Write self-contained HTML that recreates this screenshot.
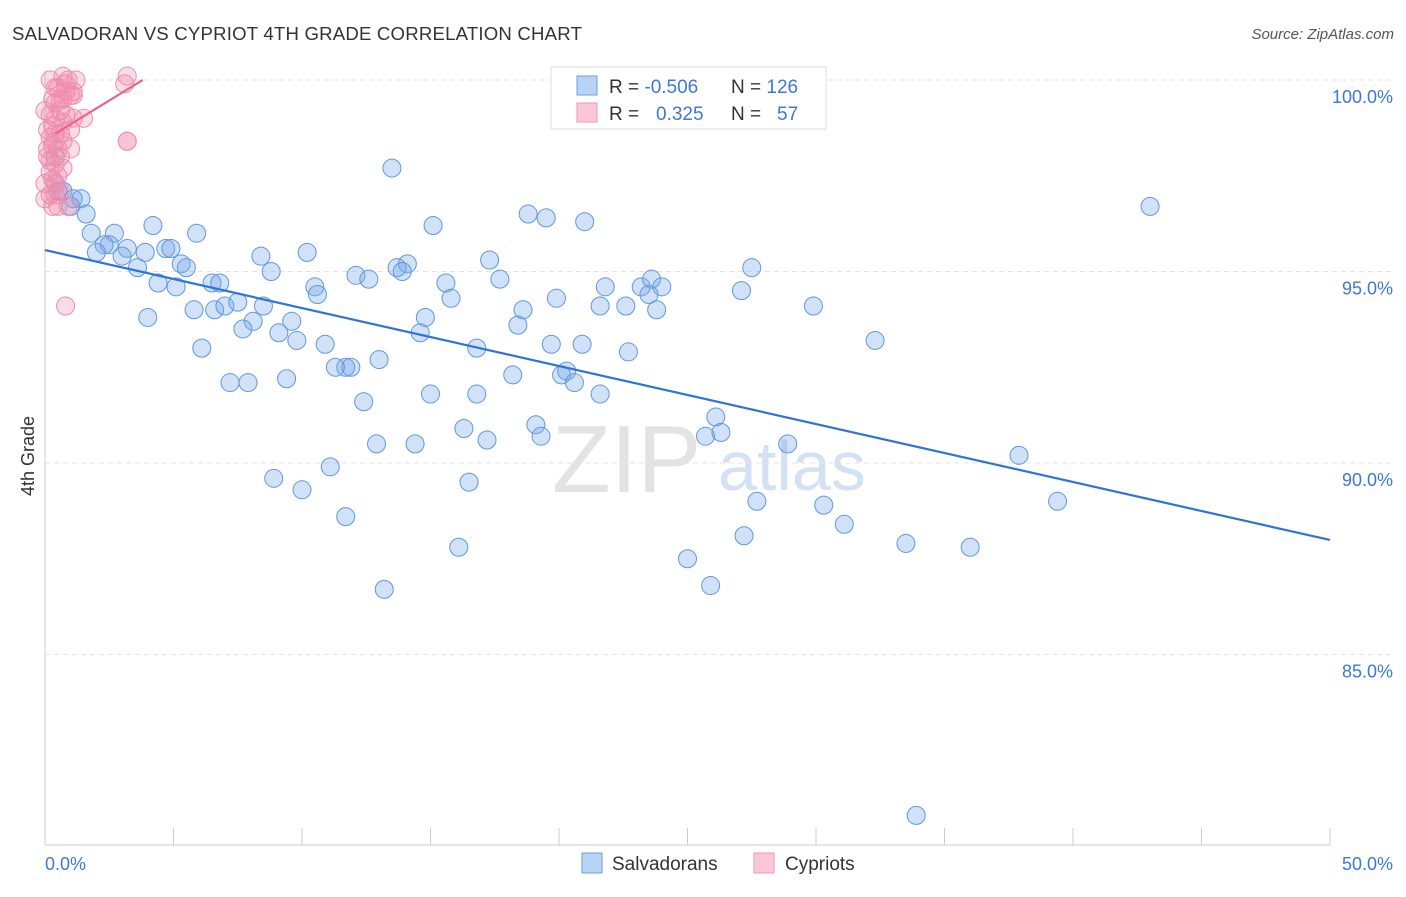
<!DOCTYPE html>
<html><head><meta charset="utf-8"><style>
body{margin:0;background:#fff;font-family:"Liberation Sans",sans-serif}
svg text{font-family:"Liberation Sans",sans-serif}
</style></head><body>
<svg id="chart" width="1406" height="892" xmlns="http://www.w3.org/2000/svg">
<text x="12" y="40" font-size="18.6" letter-spacing="0.2" fill="#333">SALVADORAN VS CYPRIOT 4TH GRADE CORRELATION CHART</text>
<text x="1394" y="39" font-size="15" fill="#555" text-anchor="end" font-style="italic">Source: ZipAtlas.com</text>
<g>
<text x="552" y="492" font-size="96" fill="#ddd" font-family="Liberation Serif" opacity="0.8">ZIP</text>
<text x="718" y="490" font-size="70" fill="#c9daf3" opacity="0.8">atlas</text>
</g>
<g id="grid"></g>
<g id="axes"></g>
<g id="marks"></g>
<text x="34" y="456" font-size="18" fill="#333" text-anchor="middle" transform="rotate(-90 34 456)">4th Grade</text>
<g>
<rect x="551" y="67" width="275" height="62" fill="#fff" stroke="#ddd"/>
<rect x="577" y="76" width="20" height="19" fill="#b8d3f5" stroke="#6a9fe0"/>
<rect x="577" y="103" width="20" height="19" fill="#fbc7d6" stroke="#ec9ab4"/>
<text x="609" y="93" font-size="19" fill="#333">R = <tspan fill="#3d78d8">-0.506</tspan></text>
<text x="731" y="93" font-size="19" fill="#333">N = <tspan fill="#3d78d8">126</tspan></text>
<text x="609" y="120" font-size="19" fill="#333">R = <tspan fill="#3d78d8" x="656">0.325</tspan></text>
<text x="731" y="120" font-size="19" fill="#333">N = <tspan fill="#3d78d8" x="777">57</tspan></text>
</g>
<g>
<rect x="582" y="853" width="20" height="20" fill="#b8d3f5" stroke="#6a9fe0"/>
<text x="612" y="870" font-size="19" fill="#333">Salvadorans</text>
<rect x="754" y="853" width="20" height="20" fill="#fbc7d6" stroke="#ec9ab4"/>
<text x="785" y="870" font-size="19" fill="#333">Cypriots</text>
</g>
</svg>
<script>
const blueX=[13.5,43.0,18.8,19.5,21.0,15.1,4.2,5.9,1.8,2.7,2.5,3.2,2.3,4.7,4.9,3.9,2.0,3.0,8.4,10.2,17.3,5.3,5.5,3.6,8.8,14.1,13.7,13.9,12.1,12.6,27.5,17.7,15.6,10.5,10.6,4.4,5.1,6.5,6.8,21.8,23.2,23.6,24.0,23.5,27.1,15.8,19.9,21.6,22.6,23.8,29.9,18.6,5.8,6.6,7.0,7.5,8.5,4.0,8.1,9.6,14.8,18.4,7.7,9.1,9.8,14.6,32.3,10.9,16.8,19.7,20.9,6.1,22.7,13.0,11.7,11.9,11.3,18.2,20.1,20.3,20.6,9.4,7.2,7.9,12.4,15.0,16.8,21.6,26.1,19.1,19.3,16.3,17.2,12.9,14.4,25.7,26.3,28.9,37.9,11.1,8.9,10.0,16.5,27.7,39.4,30.3,11.7,31.1,27.2,16.1,33.5,36.0,25.0,25.9,13.2,33.9,0.7,1.1,1.4,0.5,0.4,1.0,1.6,0.4];
const blueY=[97.7,96.7,96.5,96.4,96.3,96.2,96.2,96.0,96.0,96.0,95.7,95.6,95.7,95.6,95.6,95.5,95.5,95.4,95.4,95.5,95.3,95.2,95.1,95.1,95.0,95.2,95.1,95.0,94.9,94.8,95.1,94.8,94.7,94.6,94.4,94.7,94.6,94.7,94.7,94.6,94.6,94.8,94.6,94.4,94.5,94.3,94.3,94.1,94.1,94.0,94.1,94.0,94.0,94.0,94.1,94.2,94.1,93.8,93.7,93.7,93.8,93.6,93.5,93.4,93.2,93.4,93.2,93.1,93.0,93.1,93.1,93.0,92.9,92.7,92.5,92.5,92.5,92.3,92.3,92.4,92.1,92.2,92.1,92.1,91.6,91.8,91.8,91.8,91.2,91.0,90.7,90.9,90.6,90.5,90.5,90.7,90.8,90.5,90.2,89.9,89.6,89.3,89.5,89.0,89.0,88.9,88.6,88.4,88.1,87.8,87.9,87.8,87.5,86.8,86.7,80.8,97.1,96.9,96.9,97.1,97.3,96.7,96.5,98.0];
const pinkX=[0.2,0.7,0.9,1.2,0.5,0.8,1.0,1.1,0.4,0.6,0.8,1.5,0.3,0.4,0.6,0.2,1.0,0.3,0.5,0.1,0.4,0.7,0.2,0.4,0.6,0.2,0.3,0.5,0.9,3.2,0.8,3.1,3.2,0.0,0.1,0.4,0.7,1.1,0.2,0.0,0.4,0.7,0.3,1.0,0.5,0.0,0.4,0.8,1.1,0.1,0.6,0.7,0.2,0.4,0.3,3.2,0.6];
const pinkY=[100.0,100.1,100.0,100.0,99.8,99.7,99.6,99.7,99.4,99.2,99.1,99.0,98.8,98.6,98.6,98.5,98.2,98.3,98.2,98.0,97.8,97.7,97.6,97.3,97.1,97.0,96.7,96.7,96.7,98.4,94.1,99.9,100.1,99.2,98.7,99.0,99.5,99.6,97.9,97.3,98.4,98.9,99.5,98.7,97.5,96.9,99.8,99.9,99.0,98.2,98.0,98.4,99.1,97.0,97.4,98.4,99.5];
const blueTrend=[[0,95.56],[50,87.99]];
const pinkTrend=[[0.4,98.6],[3.8,100.0]];
const yTicks=[100,95,90,85];
const yTickLabels=["100.0%","95.0%","90.0%","85.0%"];
const xTicks=[0,5,10,15,20,25,30,35,40,45,50];

const NS="http://www.w3.org/2000/svg";
const sx=v=>45+v*25.7;
const sy=v=>80+(100-v)*38.3;
function mk(tag,attrs,parent){const e=document.createElementNS(NS,tag);for(const k in attrs)e.setAttribute(k,attrs[k]);parent.appendChild(e);return e;}
const grid=document.getElementById('grid'),axes=document.getElementById('axes'),marks=document.getElementById('marks');
yTicks.forEach((t,i)=>{
  const l=mk('line',{x1:45,x2:1395,y1:sy(t),y2:sy(t),stroke:'#e3e3e3','stroke-dasharray':'5,4'},grid);
  
  
  const tx=mk('text',{x:1393,y:sy(t)+23,'font-size':18,fill:'#3d78d8','text-anchor':'end'},axes);
  tx.textContent=yTickLabels[i];
  
  
});
const ax=mk('line',{x1:45,x2:1330,y1:845,y2:845,stroke:'#ccc'},axes);


const ay=mk('line',{x1:45,x2:45,y1:70,y2:845,stroke:'#ccc'},axes);


xTicks.forEach(t=>{
  const l=mk('line',{x1:sx(t),x2:sx(t),y1:828,y2:845,stroke:'#ccc'},axes);
  
  
});
const xl0=mk('text',{x:45,y:870,'font-size':18,fill:'#3d78d8'},axes);xl0.textContent=xTicks[0].toFixed(1)+'%';


const xl1=mk('text',{x:1393,y:870,'font-size':18,fill:'#3d78d8','text-anchor':'end'},axes);xl1.textContent=xTicks[xTicks.length-1].toFixed(1)+'%';


blueX.forEach((x,i)=>{
  const c=mk('circle',{cx:sx(x),cy:sy(blueY[i]),r:9,fill:'rgba(120,170,235,0.35)',stroke:'#5f98de','stroke-width':1},marks);
  
  
});
pinkX.forEach((x,i)=>{
  const c=mk('circle',{cx:sx(x),cy:sy(pinkY[i]),r:9,fill:'rgba(242,140,170,0.3)',stroke:'#ec8fae','stroke-width':1},marks);
  
  
});
const bl=mk('line',{x1:sx(blueTrend[0][0]),y1:sy(blueTrend[0][1]),x2:sx(blueTrend[1][0]),y2:sy(blueTrend[1][1]),stroke:'#2f73d6','stroke-width':2.2},marks);


const pl=mk('line',{x1:sx(pinkTrend[0][0]),y1:sy(pinkTrend[0][1]),x2:sx(pinkTrend[1][0]),y2:sy(pinkTrend[1][1]),stroke:'#e8648c','stroke-width':2.2},marks);


</script>
</body></html>
